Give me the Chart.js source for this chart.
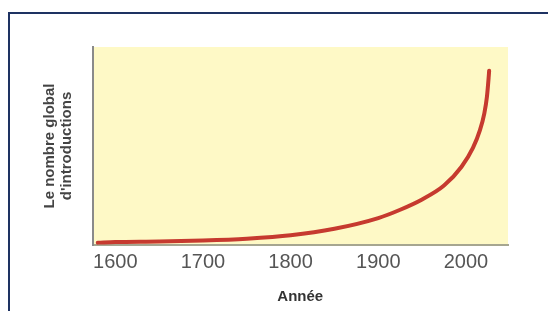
<!DOCTYPE html>
<html lang="fr">
<head>
<meta charset="utf-8">
<script src="https://cdn.jsdelivr.net/npm/chart.js@4/dist/chart.umd.min.js"></script>
<style>
  html, body { margin: 0; padding: 0; background: #fff; overflow: hidden; }
  body { width: 548px; height: 311px; position: relative; }
  .frame { position: absolute; left: 8px; top: 12px; width: 600px; height: 400px; border: 2px solid #1e3262; }
  .wrap { position: absolute; left: 0; top: 0; width: 548px; height: 311px; }
</style>
</head>
<body>
<div class="frame"></div>
<div class="wrap"><canvas id="chart"></canvas></div>
<script>
// values (relative units, axis has no scale)
const years = [1580, 1600, 1650, 1700, 1750, 1800, 1850, 1900, 1925, 1950, 1975, 1995, 2008, 2016, 2021, 2024, 2026, 2026.5];
const introductions = [1.2, 1.5, 1.8, 2.3, 3.2, 4.9, 8.2, 13.6, 17.8, 23, 30, 39.5, 49, 58, 66.5, 75, 85, 88];
const tickYears = [1600, 1700, 1800, 1900, 2000];
const yTitle = ["Le nombre global", "d'introductions"];
const xTitle = "Année";

const plotBg = {
  id: "plotBg",
  beforeDraw(chart) {
    const { ctx, chartArea: a } = chart;
    ctx.save();
    ctx.fillStyle = "#fef9c6";
    ctx.fillRect(a.left, a.top, a.right - a.left, a.bottom - a.top);
    ctx.restore();
  },
};

new Chart(document.getElementById("chart"), {
  type: "line",
  data: {
    datasets: [{
      data: years.map((y, i) => ({ x: y, y: introductions[i] })),
      borderColor: "#c63a2f",
      borderWidth: 4,
      borderCapStyle: "round",
      cubicInterpolationMode: "monotone",
      pointRadius: 0,
      fill: false,
    }],
  },
  options: {
    responsive: true,
    maintainAspectRatio: false,
    animation: false,
    layout: { padding: { left: 41, right: 40, top: 47, bottom: 5 } },
    plugins: { legend: { display: false }, tooltip: { enabled: false } },
    scales: {
      x: {
        type: "linear",
        min: 1574,
        max: 2048,
        afterBuildTicks: (axis) => { axis.ticks = tickYears.map((v) => ({ value: v })); },
        grid: { display: false, drawTicks: false },
        border: { display: true, color: "#a6a690", width: 2 },
        ticks: {
          color: "#555",
          padding: 5,
          callback: (v) => String(v),
          font: { family: "Liberation Sans, Arial, sans-serif", size: 20 },
        },
        title: {
          display: true,
          text: xTitle,
          color: "#333",
          padding: { top: 9, bottom: 0 },
          font: { family: "Liberation Sans, Arial, sans-serif", size: 15, weight: "bold" },
        },
      },
      y: {
        min: 0,
        max: 100,
        grid: { display: false, drawTicks: false },
        border: { display: true, color: "#8a8a8a", width: 2 },
        ticks: { display: false },
        title: {
          display: true,
          text: yTitle,
          color: "#444",
          padding: { top: 0, bottom: 17 },
          font: { family: "Liberation Sans, Arial, sans-serif", size: 15, weight: "bold", lineHeight: 1.15 },
        },
      },
    },
  },
  plugins: [plotBg],
});
</script>
</body>
</html>
